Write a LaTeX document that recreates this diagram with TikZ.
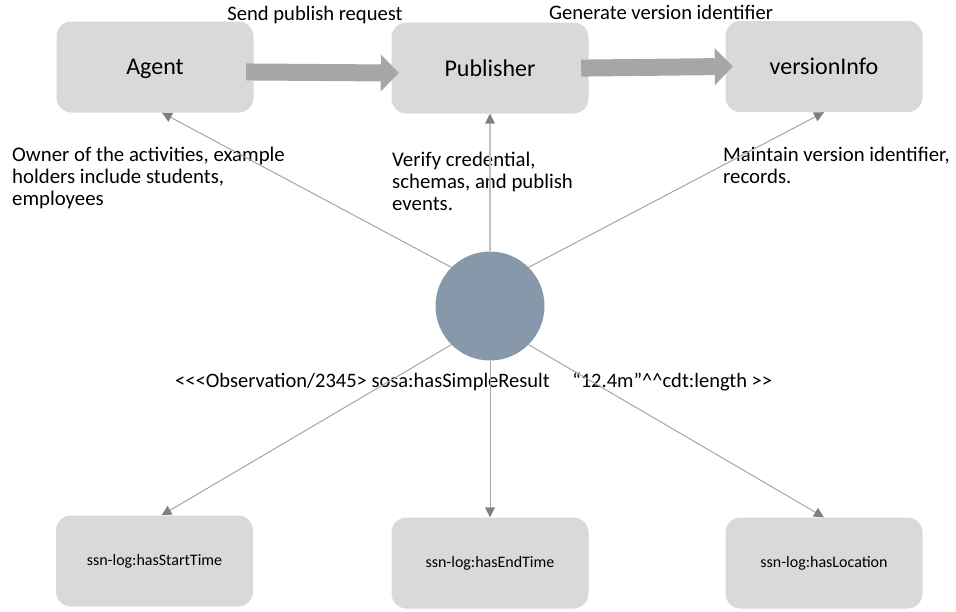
\documentclass[tikz,border=0pt]{standalone}
\usepackage{fontspec}
\setmainfont{Carlito}
\usetikzlibrary{arrows.meta}
\definecolor{boxFill}{RGB}{217,217,217}
\definecolor{flowGray}{RGB}{166,166,166}
\definecolor{linkGray}{RGB}{165,165,165}
\definecolor{tipGray}{RGB}{127,127,127}
\definecolor{obsFill}{RGB}{134,152,170}
\tikzset{
  rolebox/.style={rectangle,rounded corners=15pt,fill=boxFill,
    minimum width=197pt,minimum height=91pt,inner sep=0pt},
  rolename/.style={font=\fontsize{24}{28}\selectfont,text depth=0pt},
  termname/.style={font=\fontsize{16}{19}\selectfont},
  flow/.style={draw=flowGray,line width=17pt,
    -{Triangle[length=18pt,width=37pt,line width=0pt,color=flowGray]},
    shorten <=-7.5pt,shorten >=-7.5pt},
  link/.style={draw=linkGray,line width=1pt,
    -{Triangle[length=10pt,width=10pt,line width=0pt,color=tipGray]}},
  caption/.style={font=\fontsize{20.6}{24}\selectfont,inner sep=0pt,anchor=base},
  note/.style={font=\fontsize{20.8}{21.7}\selectfont,inner sep=0pt,
    align=left,anchor=north west}
}
\begin{document}
\begin{tikzpicture}[x=1pt,y=-1pt]
\useasboundingbox (0,0) rectangle (956,611);

% top row
\node[rolebox,rolename] (agent) at (155,67) {Agent};
\node[rolebox,rolename] (publisher) at (490,68) {Publisher};
\node[rolebox,rolename] (version) at (824,66.5) {versionInfo};

% observation
\node[circle,fill=obsFill,minimum size=109pt,inner sep=0pt] (obs) at (490,306) {};

% bottom row
\node[rolebox,termname] (starttime) at (154.5,561) {ssn-log:hasStartTime};
\node[rolebox,termname] (endtime) at (490,563) {ssn-log:hasEndTime};
\node[rolebox,termname] (location) at (824,563) {ssn-log:hasLocation};

% flow
\draw[flow] ([yshift=-5pt]agent.east) -- ([yshift=-5pt]publisher.west);
\draw[flow] (publisher.east) -- (version.west);
\node[caption] (sendlbl) at (315,20) {Send publish request};
\node[caption] (genlbl) at (661,19) {Generate version identifier};

% notes
\node[note] (ownernote) at (12,147) {Owner of the activities, example\\holders include students,\\employees};
\node[note] (verifynote) at (392,152) {Verify credential,\\schemas, and publish\\events.};
\node[note] (maintainnote) at (723,147) {Maintain version identifier,\\records.};
\node[font=\fontsize{20.5}{24}\selectfont,inner sep=0pt,anchor=base west] (triple) at (175,387)
  {<\kern0pt<\kern0pt<Observation/2345> sosa:hasSimpleResult\hspace{1.1em}“12.4m”\textasciicircum\textasciicircum cdt:length >\kern0pt>};

% links
\draw[link] (obs.135) -- ([xshift=7pt]agent.south);
\draw[link,draw=linkGray!70,line width=1.5pt] (obs.north) -- (publisher.south);
\draw[link] (obs.45) -- (version.south);
\draw[link] (obs.225) -- ([xshift=7pt]starttime.north);
\draw[link] (obs.south) -- (endtime.north);
\draw[link] (obs.315) -- (location.north);
\end{tikzpicture}
\end{document}
